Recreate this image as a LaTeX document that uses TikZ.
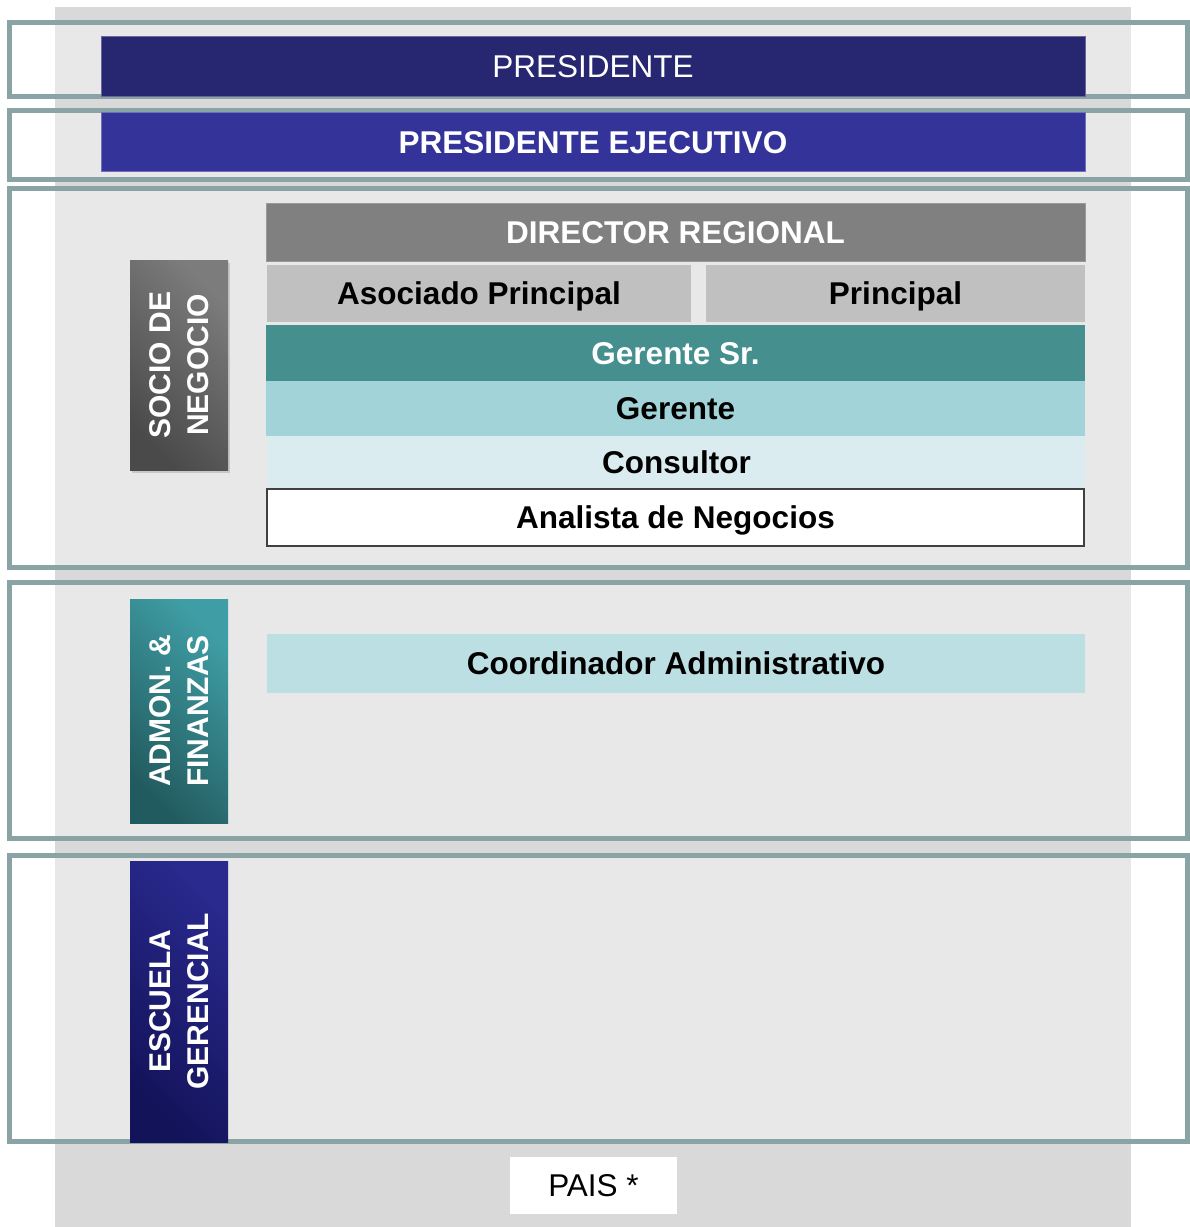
\documentclass[tikz,border=0pt]{standalone}
\usepackage{fontspec}
\setmainfont{Liberation Sans}
\usetikzlibrary{shadows}
\definecolor{colbg}{HTML}{D9D9D9}
\definecolor{bandline}{HTML}{8AA4A5}
\definecolor{pres}{HTML}{262671}
\definecolor{presej}{HTML}{333399}
\definecolor{dirreg}{HTML}{808080}
\definecolor{asoc}{HTML}{C0C0C0}
\definecolor{gersr}{HTML}{45908F}
\definecolor{ger}{HTML}{A2D3D8}
\definecolor{cons}{HTML}{DBECF0}
\definecolor{coord}{HTML}{BCDFE3}
\definecolor{sociodark}{HTML}{4A4A4A}
\definecolor{sociolight}{HTML}{7C7C7C}
\definecolor{admondark}{HTML}{225B5F}
\definecolor{admonlight}{HTML}{3F9EA5}
\definecolor{escdark}{HTML}{13135A}
\definecolor{esclight}{HTML}{29298E}
\begin{document}
\begin{tikzpicture}[x=1pt,y=-1pt,
  band/.style={draw=bandline, line width=5pt, fill=white, fill opacity=0.4},
  role/.style={anchor=north west, inner sep=0pt, outer sep=0pt,
    text height=22.5pt, text depth=0pt,
    font=\fontsize{31.5}{38}\selectfont\bfseries, align=center},
  plainrole/.style={role, font=\fontsize{31.5}{38}\selectfont},
  sidebox/.style={inner sep=0pt, outer sep=0pt},
  sidetext/.style={rotate=90, text=white, align=center,
    font=\fontsize{30}{38}\selectfont\bfseries}
]
\useasboundingbox (0,0) rectangle (1190,1227);
% gray column
\fill[colbg] (55,7) rectangle (1131,1227);
% bands
\draw[band] (9.5,22.5) rectangle (1187.5,96.5);
\draw[band] (9.5,110.5) rectangle (1187.5,179.5);
\draw[band] (9.5,188.5) rectangle (1187.5,567);
\draw[band] (9.5,582) rectangle (1187.5,838.5);
\draw[band] (9.5,855.5) rectangle (1187.5,1141.5);
% top roles
\node[plainrole, fill=pres, draw=pres!70!white, line width=0.8pt, text=white,
  minimum width=984, minimum height=59.5] (presidente) at (101,36.5) {PRESIDENTE};
\node[role, fill=presej, draw=presej!70!white, line width=0.8pt, text=white,
  minimum width=984, minimum height=58.3] (presej) at (101,112.7) {PRESIDENTE EJECUTIVO};
% socio de negocio block
\node[role, fill=dirreg, draw=dirreg!80!white, line width=0.6pt, text=white,
  minimum width=819, minimum height=58] (dirreg) at (266,203) {DIRECTOR REGIONAL};
\node[role, fill=asoc, text=black, minimum width=424, minimum height=57]
  (asoc) at (267,265) {Asociado Principal};
\node[role, fill=asoc, text=black, minimum width=379, minimum height=57]
  (principal) at (706,265) {Principal};
\node[role, fill=gersr, text=white, minimum width=819, minimum height=56]
  (gersr) at (266,325) {Gerente Sr.};
\node[role, fill=ger, text=black, minimum width=819, minimum height=55]
  (gerente) at (266,381) {Gerente};
\node[role, fill=cons, text=black, minimum width=817, minimum height=52]
  (consultor) at (268,436) {Consultor};
\node[role, fill=white, draw=black!75, line width=1.2pt, text=black,
  minimum width=817, minimum height=57] (analista) at (267,489) {Analista de Negocios};
% admon
\node[role, fill=coord, text=black, minimum width=818, minimum height=59]
  (coord) at (267,634) {Coordinador Administrativo};
% side boxes
\path[sidebox, top color=sociolight, bottom color=sociodark, shading angle=-45,
  drop shadow={opacity=0.3, shadow xshift=2pt, shadow yshift=-3pt}]
  (130,260) rectangle (228,470);
\node[sidetext] (socio) at (179,365) {SOCIO DE\\NEGOCIO};
\path[sidebox, top color=admonlight, bottom color=admondark, shading angle=-45]
  (130,599) rectangle (228,823);
\node[sidetext] (admon) at (179,711) {ADMON. \&\\FINANZAS};
\path[sidebox, top color=esclight, bottom color=escdark, shading angle=-45]
  (130,861) rectangle (228,1142);
\node[sidetext] (escuela) at (179,1001) {ESCUELA\\GERENCIAL};
% pais
\node[plainrole, fill=white, text=black, minimum width=167, minimum height=57]
  (pais) at (510,1157) {PAIS *};
\end{tikzpicture}
\end{document}
